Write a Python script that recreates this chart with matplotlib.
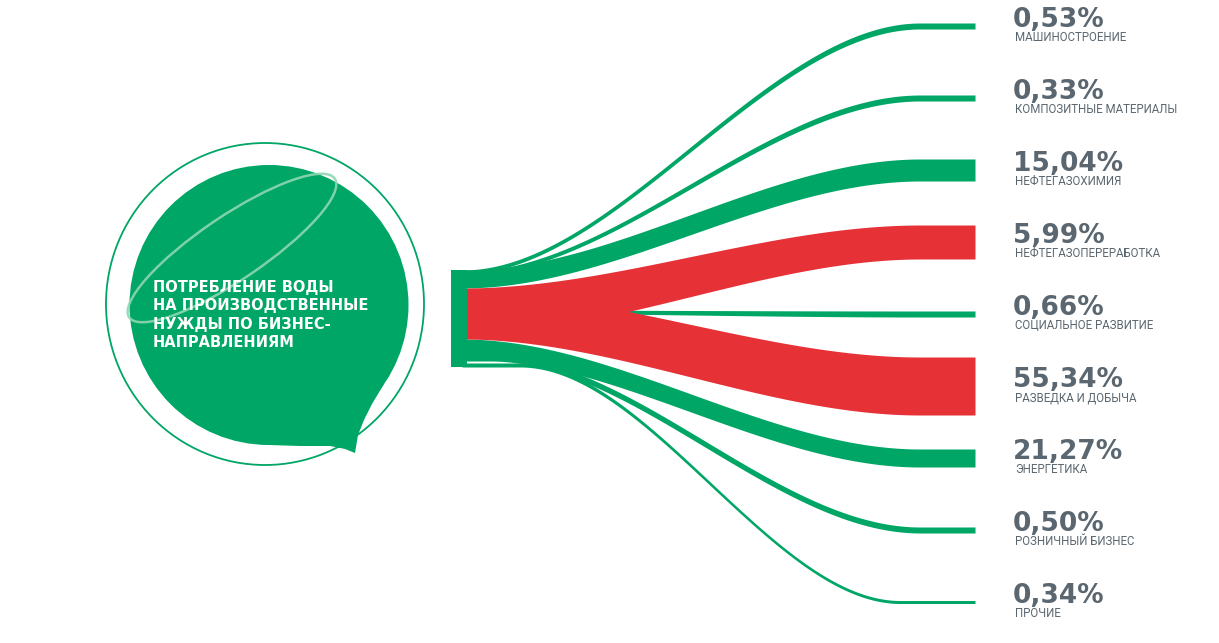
import numpy as np
import matplotlib.pyplot as plt
from matplotlib.patches import Ellipse, Polygon, Rectangle

# data (share of water use, %)
categories = ['МАШИНОСТРОЕНИЕ', 'КОМПОЗИТНЫЕ МАТЕРИАЛЫ', 'НЕФТЕГАЗОХИМИЯ',
              'НЕФТЕГАЗОПЕРЕРАБОТКА', 'СОЦИАЛЬНОЕ РАЗВИТИЕ', 'РАЗВЕДКА И ДОБЫЧА',
              'ЭНЕРГЕТИКА', 'РОЗНИЧНЫЙ БИЗНЕС', 'ПРОЧИЕ']
shares = [0.53, 0.33, 15.04, 5.99, 0.66, 55.34, 21.27, 0.50, 0.34]
highlighted = ['НЕФТЕГАЗОПЕРЕРАБОТКА', 'РАЗВЕДКА И ДОБЫЧА']
title = 'ПОТРЕБЛЕНИЕ ВОДЫ\nНА ПРОИЗВОДСТВЕННЫЕ\nНУЖДЫ ПО БИЗНЕС-\nНАПРАВЛЕНИЯМ'

# layout / style (pixels)
GREEN = '#00A665'
RED = '#E63137'
GREY = '#5B6770'
X0, X1 = 462, 975
slot_top, slot_step = 26, 72
band_px = [6, 6, 22, 34, 6, 58, 18, 6, 3]
bend = [(462, 920)] * 7 + [(490, 920), (520, 900)]
src_edges = [(270, 274), (272, 276), (270, 288), (288, 334), (310, 313),
             (292, 339), (339, 357), (355, 361), (363, 367)]

fig = plt.figure(figsize=(12.19, 6.43), dpi=100)
ax = fig.add_axes([0, 0, 1, 1])
ax.set_xlim(0, 1219)
ax.set_ylim(643, 0)
ax.axis('off')

# bubble on the left
ax.add_patch(Ellipse((265, 304), 318, 322, fill=False, ec=GREEN, lw=1.3))
ax.add_patch(Ellipse((269, 305), 279, 280, color=GREEN, lw=0))
ax.add_patch(Polygon([(269, 400), (384, 384), (372, 404), (364, 420), (358, 435),
                      (355, 453), (345, 449), (330, 446), (300, 446), (269, 445)],
                     color=GREEN, lw=0))
ax.add_patch(Ellipse((232, 248), 248, 64, angle=-34, fill=False,
                     ec='#8ED6B2', lw=1.8, alpha=0.9))
ax.text(153, 280, title, color='white', fontsize=10.5, fontweight='bold',
        family='DejaVu Sans', va='top', ha='left', linespacing=1.28)


def draw_band(src, tgt_y, tgt_w, xr, color):
    x = np.linspace(X0, X1, 500)
    u = np.clip((x - xr[0]) / (xr[1] - xr[0]), 0, 1)
    s = 3 * u**2 - 2 * u**3
    top = src[0] + (tgt_y - tgt_w / 2 - src[0]) * s
    bot = src[1] + (tgt_y + tgt_w / 2 - src[1]) * s
    ax.fill_between(x, top, bot, color=color, lw=0)


order = [i for i in range(len(categories)) if categories[i] not in highlighted] + \
        [i for i in range(len(categories)) if categories[i] in highlighted]
for i in order:
    color = RED if categories[i] in highlighted else GREEN
    draw_band(src_edges[i], slot_top + slot_step * i, band_px[i], bend[i], color)

ax.add_patch(Rectangle((451, 270), 16, 97, color=GREEN, lw=0))

for i, (cat, val) in enumerate(zip(categories, shares)):
    y = slot_top + slot_step * i
    pct = f'{val:.2f}%'.replace('.', ',')
    ax.text(1013, y + 1, pct, color=GREY, fontsize=19, fontweight='bold',
            family='DejaVu Sans', va='baseline', ha='left')
    ax.text(1015, y + 15, cat, color=GREY, fontsize=8.3,
            family='Roboto', va='baseline', ha='left')

fig.savefig('out.png', dpi=100)
